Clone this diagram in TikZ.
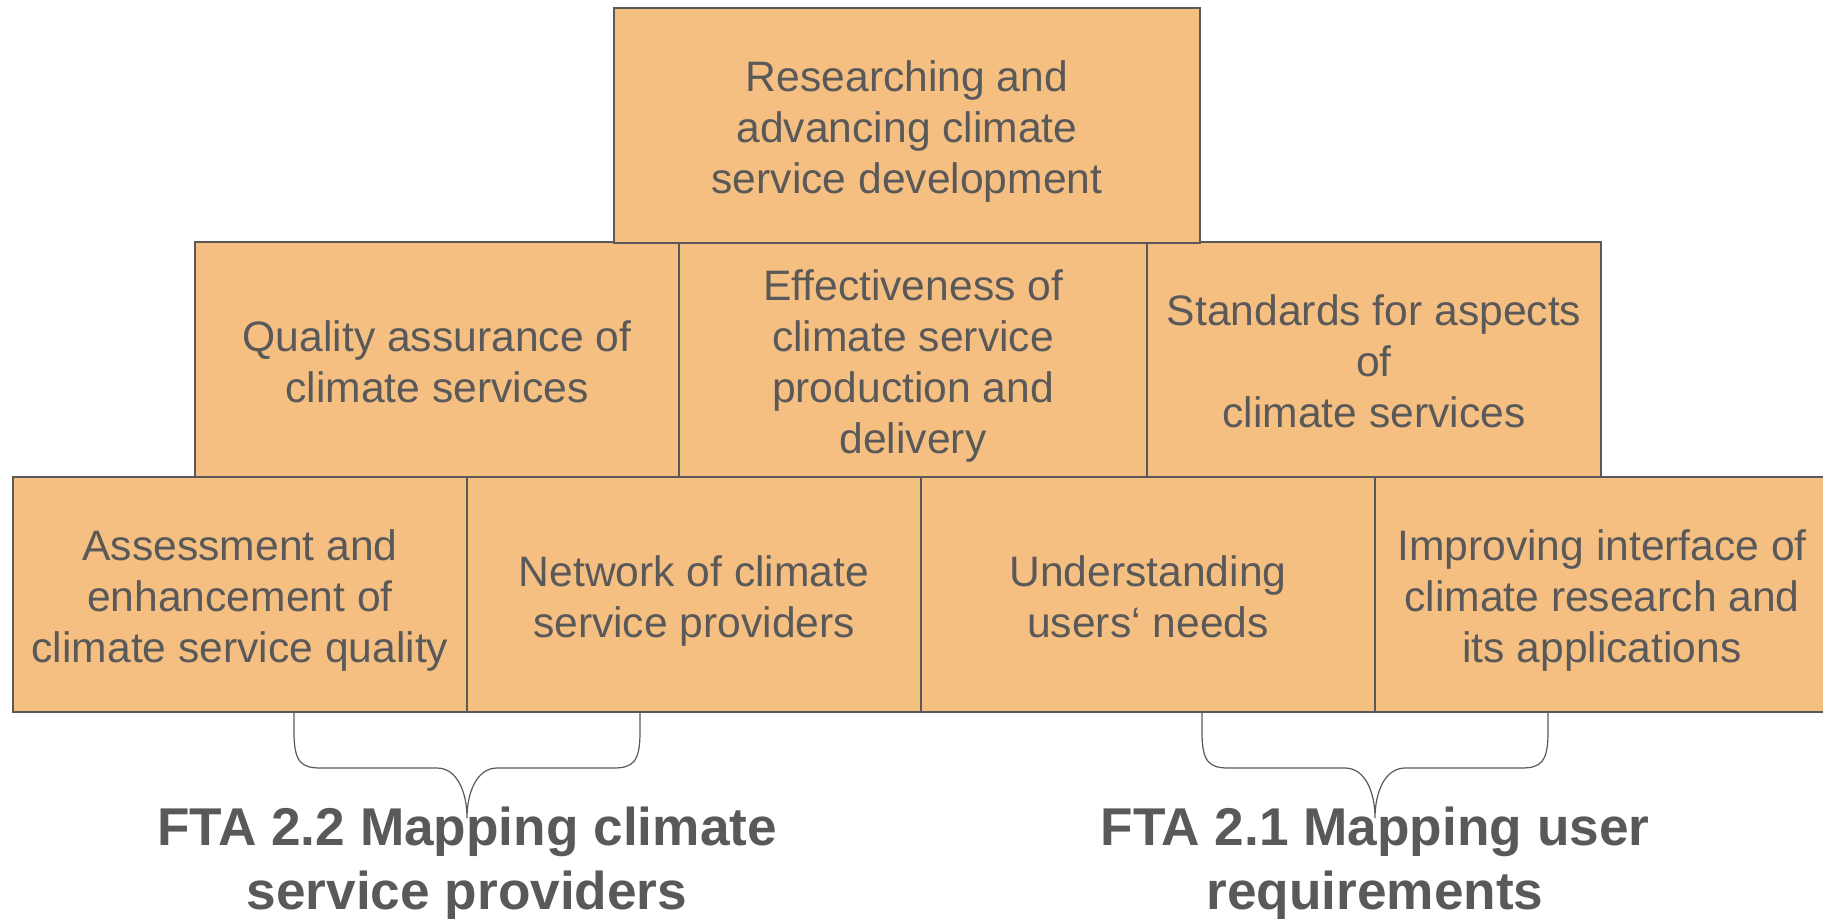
\documentclass[tikz,border=0pt]{standalone}
\usepackage{fontspec}
\setmainfont{Liberation Sans}
\usepackage{xcolor}
\usetikzlibrary{positioning}
\definecolor{boxfill}{RGB}{246,191,130}
\definecolor{textgray}{RGB}{89,89,89}

\begin{document}
\begin{tikzpicture}[
  x=0.5pt, y=-0.5pt,
  box/.style={draw=textgray,fill=boxfill,line width=1pt,outer sep=0pt,inner sep=2pt,
    minimum height=117.5pt,text width=220pt,align=flush center,text=textgray,
    font=\fontsize{21.3}{25.5}\selectfont,
    execute at begin node={\rule{0pt}{21.5pt}},
    execute at end node={\rule[-4.5pt]{0pt}{0pt}}},
  fta/.style={align=center,text=textgray,inner sep=0pt,
    font=\fontsize{26.6}{32}\selectfont\bfseries},
  brace/.style={draw=textgray,line width=0.6pt}
]
\useasboundingbox (0,0) rectangle (1823,918);

\node[box, minimum width=227pt] (A) at (240,594.5) {Assessment and\\enhancement of\\climate service quality};
\node[box, minimum width=227pt, right=0pt of A] (N) {Network of climate\\service providers};
\node[box, minimum width=227pt, right=0pt of N] (U) {Understanding\\users‘ needs};
\node[box, minimum width=227pt, right=0pt of U] (I) {Improving interface of\\climate research and\\its applications};

\node[box, minimum width=242pt, anchor=south west] (Q) at (195,477) {Quality assurance of\\climate services};
\node[box, minimum width=234pt, right=0pt of Q] (E) {Effectiveness of\\climate service\\production and\\delivery};
\node[box, minimum width=227pt, right=0pt of E] (S) {Standards for aspects\\of\\climate services};

\node[box, minimum width=293pt, anchor=south west] (R) at (614,243) {Researching and\\advancing climate\\service development};

\foreach \t in {A,U}{
  \begin{scope}[shift={(\t.south east)}]
    \draw[brace] (-173,0) -- (-173,20) .. controls (-173,50) and (-166,56) .. (-146,56)
      -- (-30,56) .. controls (-10,56) and (0,80) .. (0,106)
      .. controls (0,80) and (10,56) .. (30,56)
      -- (146,56) .. controls (166,56) and (173,50) .. (173,20) -- (173,0);
  \end{scope}
}

\node[fta, below=47.5pt of A.south east] (T2) {FTA 2.2 Mapping climate\\service providers};
\node[fta, below=47.5pt of U.south east] (T1) {FTA 2.1 Mapping user\\requirements};
\end{tikzpicture}
\end{document}
